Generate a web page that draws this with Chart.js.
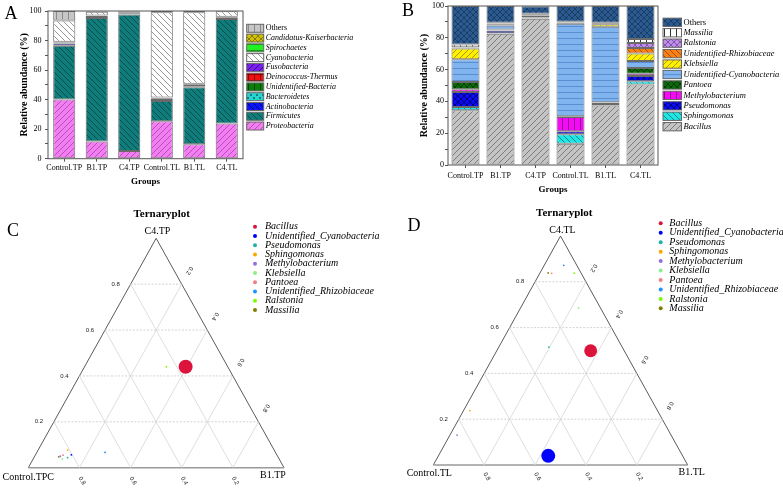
<!DOCTYPE html>
<html>
<head>
<meta charset="utf-8">
<script src="https://cdn.jsdelivr.net/npm/chart.js@4.4.0/dist/chart.umd.min.js"></script>
<style>
  body { margin: 0; background: #fff; }
  #wrap { position: relative; width: 783px; height: 488px; overflow: hidden; }
  .panel { position: absolute; }
</style>
</head>
<body>
<div id="wrap">
  <div class="panel" style="left:0;top:0"><canvas id="chartA" width="392" height="200"></canvas></div>
  <div class="panel" style="left:392px;top:0"><canvas id="chartB" width="391" height="200"></canvas></div>
  <div class="panel" style="left:0;top:200px"><canvas id="chartC" width="392" height="288"></canvas></div>
  <div class="panel" style="left:392px;top:200px"><canvas id="chartD" width="391" height="288"></canvas></div>
</div>
<script>
var SERIF = '"Liberation Serif", "Times New Roman", serif';
var SANS = '"Liberation Sans", Arial, sans-serif';

var groups = ['Control.TP', 'B1.TP', 'C4.TP', 'Control.TL', 'B1.TL', 'C4.TL'];
var yTicks = [0, 20, 40, 60, 80, 100];

// panel A, phylum level (%), bottom to top
var phylumNames = ['Proteobacteria', 'Firmicutes', 'Actinobacteria', 'Bacteroidetes', 'Unidentified-Bacteria',
  'Deinococcus-Thermus', 'Fusobacteria', 'Cyanobacteria', 'Spirochaetes', 'Candidatus-Kaiserbacteria', 'Others'];
var proteobacteria       = [40.0, 11.7, 5.2, 25.3, 9.7, 23.9];
var firmicutes           = [36.5, 83.6, 92.5, 13.7, 38.6, 70.6];
var actinobacteria       = [1.5, 1.3, 0.8, 1.5, 0.7, 1.2];
var bacteroidetes        = [0.7, 0.2, 0.1, 0.4, 1.4, 0.2];
var unidentifiedBacteria = [0.3, 0.1, 0.1, 0.3, 0.2, 0.1];
var deinococcusThermus   = [0.1, 0.05, 0.05, 0.1, 0.05, 0.05];
var fusobacteria         = [0.1, 0.05, 0.05, 0.1, 0.05, 0.05];
var cyanobacteria        = [14.3, 2.5, 0.9, 57.8, 48.4, 3.7];
var spirochaetes         = [0.05, 0.05, 0.05, 0.05, 0.05, 0.05];
var candidatusKaiser     = [0.05, 0.05, 0.05, 0.05, 0.05, 0.05];
var phylumOthers         = [6.4, 0.4, 0.2, 0.7, 0.8, 0.1];

// panel B, genus level (%), bottom to top
var genusNames = ['Bacillus', 'Sphingomonas', 'Pseudomonas', 'Methylobacterium', 'Pantoea',
  'Unidentified-Cyanobacteria', 'Klebsiella', 'Unidentified-Rhizobiaceae', 'Ralstonia', 'Massilia', 'Others'];
var bacillus                  = [34.4, 82.6, 92.0, 13.4, 37.5, 50.7];
var sphingomonas              = [2.1, 0.3, 0.2, 5.9, 0.2, 1.9];
var pseudomonas               = [9.4, 1.5, 0.5, 1.9, 1.3, 3.4];
var methylobacterium          = [1.7, 0.2, 0.1, 9.0, 0.3, 1.4];
var pantoea                   = [4.6, 0.6, 0.3, 0.5, 0.2, 3.6];
var unidentifiedCyanobacteria = [14.3, 2.5, 1.0, 58.1, 47.5, 4.4];
var klebsiella                = [6.7, 0.9, 0.3, 0.6, 1.6, 4.8];
var unidentifiedRhizobiaceae  = [0.5, 0.2, 0.05, 0.2, 0.3, 3.4];
var ralstonia                 = [0.3, 0.4, 0.55, 0.1, 0.5, 3.1];
var massilia                  = [1.8, 0.2, 0.1, 0.4, 0.1, 2.6];
var genusOthers               = [24.2, 10.6, 4.8, 9.9, 10.5, 20.7];

// panels C and D, ternary plots of the top genera
var ternaryNames = ['Bacillus', 'Unidentified_Cyanobacteria', 'Pseudomonas', 'Sphingomonas', 'Methylobacterium',
  'Klebsiella', 'Pantoea', 'Unidentified_Rhizobiaceae', 'Ralstonia', 'Massilia'];
var ternarySeries = [bacillus, unidentifiedCyanobacteria, pseudomonas, sphingomonas, methylobacterium,
  klebsiella, pantoea, unidentifiedRhizobiaceae, ralstonia, massilia];
var ternaryTicks = [0.2, 0.4, 0.6, 0.8];
var cornersC = ['Control.TPC', 'B1.TP', 'C4.TP'];
var cornersD = ['Control.TL', 'B1.TL', 'C4.TL'];

// fill styles: background, hatch colour, hatch kind
var phylumStyles = [
  ['#f17ff1', '#b94cb9', 'up'],
  ['#0f7d7c', '#0a4c4c', 'down'],
  ['#0a14f5', '#00008c', 'down'],
  ['#27d3d3', '#118080', 'dots'],
  ['#0b7f0b', '#034503', 'vert'],
  ['#f01010', '#900000', 'grid'],
  ['#7a1ef0', '#40008c', 'up'],
  ['#ffffff', '#9a9a9a', 'down'],
  ['#22f022', '#10a010', 'horiz'],
  ['#d2c200', '#847a00', 'cross'],
  ['#c6c6c6', '#8a8a8a', 'vert']
];
var genusStyles = [
  ['#c4c4c4', '#7c7c7c', 'up'],
  ['#1fe5e5', '#0f8a8a', 'down'],
  ['#0c0cf0', '#00007a', 'cross'],
  ['#f20cf2', '#9a009a', 'vert'],
  ['#0b6b0b', '#033d03', 'cross'],
  ['#80b4ee', '#5a8ed0', 'horiz'],
  ['#fff000', '#a89a00', 'up'],
  ['#f98016', '#a84c00', 'down'],
  ['#bf8fe6', '#8454b4', 'cross'],
  ['#ffffff', '#333333', 'vert'],
  ['#2a5a90', '#1a3d66', 'cross']
];
var ternColors = ['#dc143c', '#0000ff', '#20b2aa', '#ffa500', '#9370db', '#90ee90', '#f08080', '#1e90ff', '#7cfc00', '#808000'];

Chart.defaults.color = '#000';
Chart.defaults.font.family = SERIF;

function makePattern(bg, fg, kind) {
  var n = 6;
  var c = document.createElement('canvas');
  c.width = n; c.height = n;
  var g = c.getContext('2d');
  g.fillStyle = bg;
  g.fillRect(0, 0, n, n);
  g.strokeStyle = fg;
  g.fillStyle = fg;
  g.lineWidth = 1;
  g.beginPath();
  var k;
  if (kind == 'up' || kind == 'cross') {
    for (k = -n; k <= n; k += n) { g.moveTo(k, n); g.lineTo(k + n, 0); }
  }
  if (kind == 'down' || kind == 'cross') {
    for (k = -n; k <= n; k += n) { g.moveTo(k, 0); g.lineTo(k + n, n); }
  }
  if (kind == 'vert' || kind == 'grid') { g.moveTo(2.5, 0); g.lineTo(2.5, n); }
  if (kind == 'horiz' || kind == 'grid') { g.moveTo(0, 2.5); g.lineTo(n, 2.5); }
  g.stroke();
  if (kind == 'dots') { g.fillRect(1, 1, 2, 2); g.fillRect(4, 4, 2, 2); }
  return g.createPattern(c, 'repeat');
}

// box round the plot area
var framePlugin = {
  id: 'frame',
  afterDraw: function(chart) {
    var a = chart.chartArea, ctx = chart.ctx;
    ctx.save();
    ctx.strokeStyle = '#555';
    ctx.lineWidth = 1;
    ctx.strokeRect(a.left, a.top, a.right - a.left, a.bottom - a.top);
    ctx.restore();
  }
};

// legend beside the bars, top item = last dataset
var sideLegendPlugin = {
  id: 'sideLegend',
  afterDraw: function(chart, args, o) {
    var ctx = chart.ctx, a = chart.chartArea;
    var ds = chart.data.datasets.slice().reverse();
    ctx.save();
    ds.forEach(function(d, i) {
      var y = o.y0 + i * o.step;
      var x = a.right + o.dx;
      ctx.fillStyle = d.backgroundColor;
      ctx.fillRect(x, y - o.boxH / 2, o.boxW, o.boxH);
      ctx.strokeStyle = '#666';
      ctx.lineWidth = 1;
      ctx.strokeRect(x, y - o.boxH / 2, o.boxW, o.boxH);
      ctx.fillStyle = '#000';
      ctx.font = (d.label == 'Others' ? '' : 'italic ') + o.size + 'px ' + SERIF;
      ctx.textAlign = 'left';
      ctx.textBaseline = 'middle';
      ctx.fillText(d.label, x + o.boxW + 2, y);
    });
    ctx.font = '18px ' + SERIF;
    ctx.textAlign = 'center';
    ctx.fillText(o.tag, o.tagX, o.tagY);
    ctx.restore();
  }
};

function barChart(id, names, series, styles, opt) {
  var datasets = names.map(function(n, i) {
    return {
      label: n,
      data: series[i],
      backgroundColor: makePattern(styles[i][0], styles[i][1], styles[i][2]),
      borderColor: '#6a6a6a',
      borderWidth: 1,
      borderSkipped: false,
      barPercentage: opt.bar,
      categoryPercentage: 1
    };
  });
  new Chart(document.getElementById(id), {
    type: 'bar',
    data: { labels: groups, datasets: datasets },
    options: {
      responsive: false,
      animation: false,
      events: [],
      layout: { padding: opt.pad },
      plugins: { legend: { display: false }, tooltip: { enabled: false }, sideLegend: opt.legend },
      scales: {
        x: {
          stacked: true,
          border: { display: false },
          grid: { display: true, drawOnChartArea: false, offset: false, tickLength: 3, color: '#555' },
          ticks: { font: { family: SERIF, size: 8 }, color: '#000', padding: opt.xTickPad, maxRotation: 0, autoSkip: false },
          title: { display: true, text: 'Groups', color: '#000', font: { family: SERIF, size: 9, weight: 'bold' },
                   padding: { top: 0, bottom: opt.xTitlePad } },
          afterFit: function(s) { s.height = opt.xH; }
        },
        y: {
          stacked: true,
          min: 0,
          max: 100,
          border: { display: false },
          grid: { display: true, drawOnChartArea: false, tickLength: 3, color: '#555' },
          ticks: {
            stepSize: 10,
            padding: opt.yTickPad,
            color: '#000',
            font: { family: SERIF, size: 8 },
            callback: function(v) { return yTicks.indexOf(v) >= 0 ? v : ''; }
          },
          title: { display: true, text: 'Relative abundance (%)', color: '#000', font: { family: SERIF, size: 10, weight: 'bold' },
                   padding: { top: opt.yTitlePad, bottom: 0 } },
          afterFit: function(s) { s.width = opt.yW; }
        }
      }
    },
    plugins: [framePlugin, sideLegendPlugin]
  });
}

function tern(a, b, c) {
  var s = a + b + c;
  return { x: (b + c / 2) / s, y: c / s };
}

var ternaryPlugin = {
  id: 'ternaryText',
  afterDraw: function(chart, args, o) {
    var ctx = chart.ctx, sx = chart.scales.x, sy = chart.scales.y;
    function px(p) { return [sx.getPixelForValue(p.x), sy.getPixelForValue(p.y)]; }
    function tickLabel(p, dx, dy, rot, t) {
      ctx.save();
      ctx.translate(p[0] + dx, p[1] + dy);
      ctx.rotate(rot);
      ctx.fillText(t.toFixed(1), 0, 0);
      ctx.restore();
    }
    ctx.save();
    ctx.fillStyle = '#000';
    ctx.textAlign = 'center';
    ctx.textBaseline = 'middle';
    ctx.font = 'bold 11px ' + SERIF;
    ctx.fillText('Ternaryplot', o.title[0], o.title[1]);
    ctx.font = '18px ' + SERIF;
    ctx.fillText(o.tag, o.tagPos[0], o.tagPos[1]);

    ctx.font = '10px ' + SERIF;
    var v = [px(tern(1, 0, 0)), px(tern(0, 1, 0)), px(tern(0, 0, 1))];
    o.corners.forEach(function(name, i) {
      ctx.fillText(name, v[i][0] + o.cornerOff[i][0], v[i][1] + o.cornerOff[i][1]);
    });

    ctx.font = '6px ' + SANS;
    ctx.fillStyle = '#222';
    ternaryTicks.forEach(function(t) {
      tickLabel(px(tern(1 - t, 0, t)), -15, 0, 0, t);
      tickLabel(px(tern(0, t, 1 - t)), 7.7, -13.6, 2 * Math.PI / 3, t);
      tickLabel(px(tern(t, 1 - t, 0)), 2.5, o.bottomDy, Math.PI / 3, t);
    });

    ctx.textAlign = 'left';
    ctx.font = 'italic 10px ' + SERIF;
    chart.data.datasets.filter(function(d) { return d.isTaxon; }).forEach(function(d, i) {
      var y = o.legend.y0 + i * o.legend.step;
      ctx.fillStyle = d.backgroundColor;
      ctx.beginPath();
      ctx.arc(o.legend.dot, y, 2, 0, 2 * Math.PI);
      ctx.fill();
      ctx.fillStyle = '#000';
      ctx.fillText(d.label, o.legend.text, y);
    });
    ctx.restore();
  }
};

function ternaryChart(id, cols, opt) {
  var means = ternarySeries.map(function(s) { return (s[cols[0]] + s[cols[1]] + s[cols[2]]) / 3; });
  var maxMean = Math.max.apply(null, means);
  var datasets = ternaryNames.map(function(n, i) {
    var s = ternarySeries[i];
    return {
      label: n,
      isTaxon: true,
      data: [tern(s[cols[0]], s[cols[1]], s[cols[2]])],
      pointRadius: Math.max(0.9, 7 * means[i] / maxMean),
      pointBorderWidth: 0,
      backgroundColor: ternColors[i],
      borderColor: ternColors[i],
      showLine: false,
      clip: false
    };
  });
  ternaryTicks.forEach(function(t) {
    // constant C4 (dashed), constant B1, constant Control
    datasets.push({ data: [tern(1 - t, 0, t), tern(0, 1 - t, t)], showLine: true, pointRadius: 0,
                    borderColor: '#c8c8c8', borderWidth: 0.8, borderDash: [2, 1.5] });
    datasets.push({ data: [tern(1 - t, t, 0), tern(0, t, 1 - t)], showLine: true, pointRadius: 0,
                    borderColor: '#d6d6d6', borderWidth: 0.8 });
    datasets.push({ data: [tern(t, 1 - t, 0), tern(t, 0, 1 - t)], showLine: true, pointRadius: 0,
                    borderColor: '#d6d6d6', borderWidth: 0.8 });
  });
  datasets.push({
    data: [tern(1, 0, 0), tern(0, 1, 0)],
    showLine: true, pointRadius: 0, borderColor: '#9a9a9a', borderWidth: 1.6, clip: false
  });
  datasets.push({
    data: [tern(0, 1, 0), tern(0, 0, 1), tern(1, 0, 0)],
    showLine: true, pointRadius: 0, borderColor: '#5a5a5a', borderWidth: 1, clip: false
  });

  new Chart(document.getElementById(id), {
    type: 'scatter',
    data: { datasets: datasets },
    options: {
      responsive: false,
      animation: false,
      events: [],
      layout: { padding: opt.pad },
      scales: {
        x: { type: 'linear', min: 0, max: 1, display: false },
        y: { type: 'linear', min: 0, max: 1, display: false }
      },
      plugins: { legend: { display: false }, tooltip: { enabled: false }, ternaryText: opt.text }
    },
    plugins: [ternaryPlugin]
  });
}

barChart('chartA', phylumNames,
  [proteobacteria, firmicutes, actinobacteria, bacteroidetes, unidentifiedBacteria, deinococcusThermus,
   fusobacteria, cyanobacteria, spirochaetes, candidatusKaiser, phylumOthers],
  phylumStyles,
  { bar: 0.68, pad: { left: 0, top: 11, right: 149, bottom: 0 }, yW: 48, xH: 41.3,
    yTitlePad: 18, yTickPad: 3.5, xTickPad: 1, xTitlePad: 12.6,
    legend: { dx: 3.7, y0: 28.3, step: 9.77, boxW: 17, boxH: 8, size: 8, tag: 'A', tagX: 11, tagY: 14 } });

barChart('chartB', genusNames,
  [bacillus, sphingomonas, pseudomonas, methylobacterium, pantoea, unidentifiedCyanobacteria,
   klebsiella, unidentifiedRhizobiaceae, ralstonia, massilia, genusOthers],
  genusStyles,
  { bar: 0.8, pad: { left: 0, top: 6, right: 125, bottom: 0 }, yW: 56, xH: 35,
    yTitlePad: 26, yTickPad: 1, xTickPad: 3, xTitlePad: 4.6,
    legend: { dx: 5, y0: 22.3, step: 10.44, boxW: 18.5, boxH: 8.3, size: 8.5, tag: 'B', tagX: 16, tagY: 11 } });

ternaryChart('chartC', [0, 1, 2],
  { pad: { left: 28.3, top: 38.3, right: 108, bottom: 20.3 },
    text: { title: [161.7, 14], tag: 'C', tagPos: [13, 31], corners: cornersC, bottomDy: 13,
            cornerOff: [[0, 9.3], [-11, 7.3], [1.3, -6.6]],
            legend: { dot: 255, text: 265, y0: 26.7, step: 9.26 } } });

ternaryChart('chartD', [3, 4, 5],
  { pad: { left: 41.3, top: 36, right: 95.3, bottom: 23 },
    text: { title: [172.3, 12.7], tag: 'D', tagPos: [22, 26.7], corners: cornersD, bottomDy: 11.5,
            cornerOff: [[-4, 8.3], [4, 7.7], [2, -5.5]],
            legend: { dot: 268.7, text: 277.3, y0: 23.3, step: 9.45 } } });
</script>
</body>
</html>
